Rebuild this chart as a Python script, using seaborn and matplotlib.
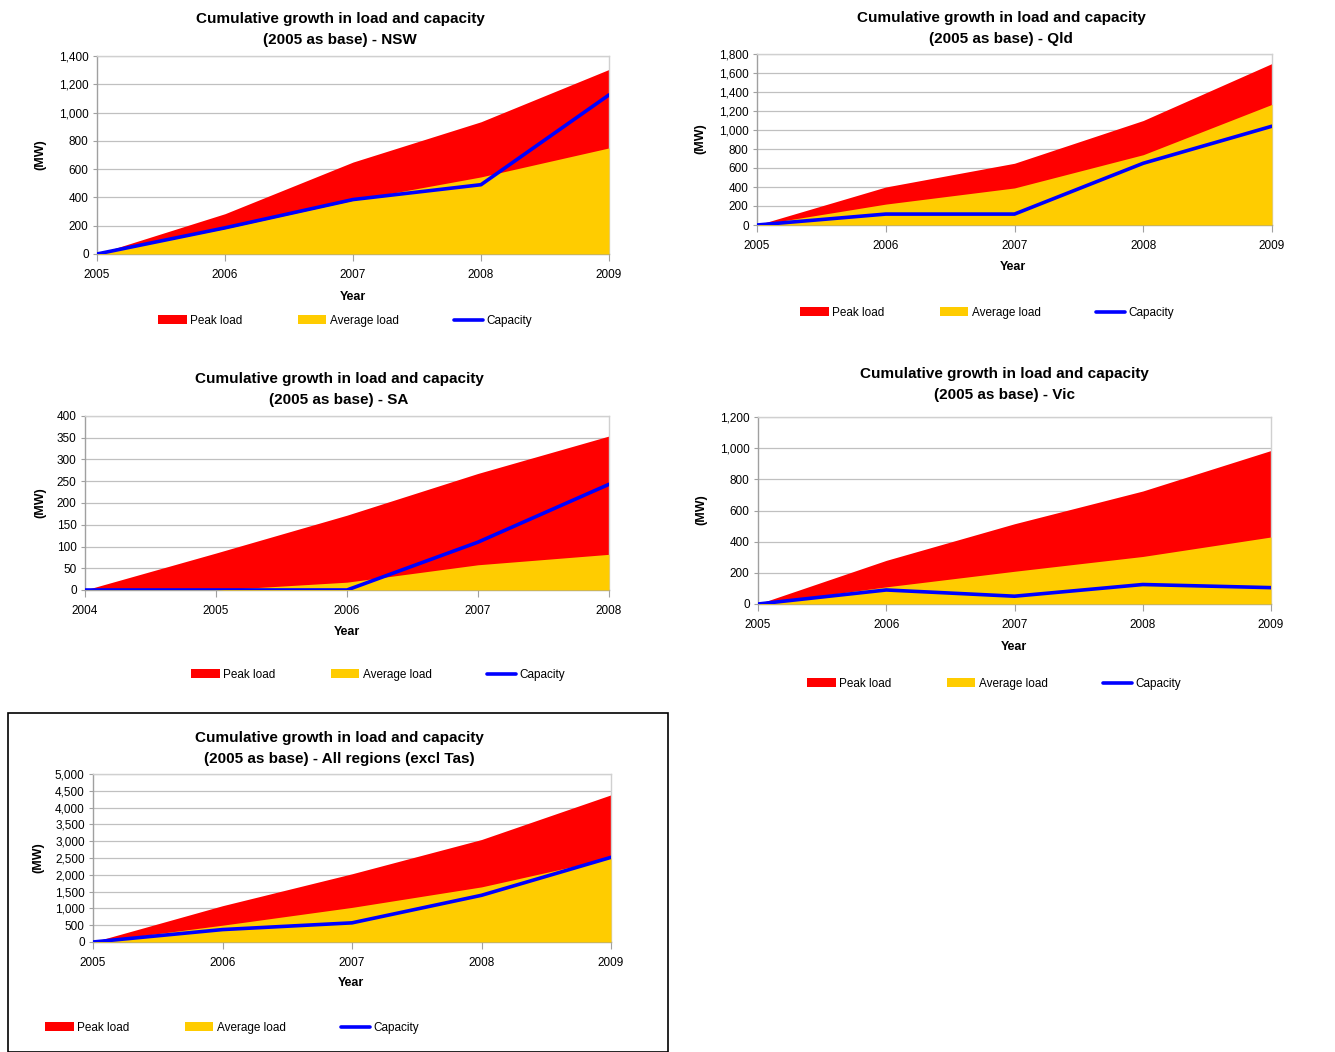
import matplotlib
matplotlib.use("Agg")
import matplotlib.pyplot as plt
from matplotlib.patches import Patch, Rectangle
from matplotlib.lines import Line2D
from matplotlib.ticker import FuncFormatter, MultipleLocator
import seaborn as sns
import pandas as pd

# Cumulative growth (MW) relative to the base year, by region
years_std = [2005, 2006, 2007, 2008, 2009]
years_sa = [2004, 2005, 2006, 2007, 2008]

nsw_peak = [0, 285, 650, 935, 1305]
nsw_avg = [0, 180, 380, 545, 750]
nsw_cap = [0, 185, 385, 490, 1125]

qld_peak = [0, 400, 650, 1100, 1700]
qld_avg = [0, 220, 390, 740, 1270]
qld_cap = [0, 115, 115, 650, 1040]

sa_peak = [0, 85, 172, 268, 354]
sa_avg = [0, 0, 18, 58, 82]
sa_cap = [0, 0, 0, 110, 243]

vic_peak = [0, 280, 515, 725, 985]
vic_avg = [0, 110, 210, 305, 430]
vic_cap = [0, 90, 50, 125, 105]

all_peak = [0, 1080, 2030, 3050, 4380]
all_avg = [0, 500, 1030, 1640, 2500]
all_cap = [0, 370, 570, 1390, 2520]

title_line1 = "Cumulative growth in load and capacity"
region_titles = ["(2005 as base) - NSW", "(2005 as base) - Qld", "(2005 as base) - SA",
                 "(2005 as base) - Vic", "(2005 as base) - All regions (excl Tas)"]
series_names = ["Peak load", "Average load", "Capacity"]

RED = "#FF0000"
YELLOW = "#FFCC00"
BLUE = "#0000FF"
GRID = "#C0C0C0"

sns.set_theme(style="white")
plt.rcParams["font.family"] = ["Liberation Sans", "DejaVu Sans"]
plt.rcParams["text.color"] = "black"
plt.rcParams["axes.labelcolor"] = "black"
plt.rcParams["xtick.labelcolor"] = "black"
plt.rcParams["ytick.labelcolor"] = "black"

W, H = 1335, 1052
fig = plt.figure(figsize=(W / 100, H / 100), dpi=100)


def px_axes(x0, y0, x1, y1):
    return fig.add_axes([x0 / W, 1 - y1 / H, (x1 - x0) / W, (y1 - y0) / H])


def ftext(x, y, s, **kw):
    fig.text(x / W, 1 - y / H, s, ha="center", va="center", color="black", **kw)


def panel(box, years, peak, avg, cap, ymax, ystep, title2, title_xy,
          year_xy, mw_xy, legend_xy):
    ax = px_axes(*box)
    ax.fill_between(years, 0, peak, color=RED, lw=0, zorder=2)
    ax.fill_between(years, 0, avg, color=YELLOW, lw=0, zorder=3)
    df = pd.DataFrame({"Year": years, "MW": cap})
    sns.lineplot(data=df, x="Year", y="MW", ax=ax, color=BLUE, lw=2.6, zorder=4)
    ax.set_xlim(years[0], years[-1])
    ax.set_ylim(0, ymax)
    ax.set_xticks(years)
    ax.yaxis.set_major_locator(MultipleLocator(ystep))
    ax.yaxis.set_major_formatter(FuncFormatter(lambda v, p: f"{v:,.0f}"))
    ax.grid(axis="y", color=GRID, lw=0.9, zorder=1)
    ax.set_axisbelow(True)
    for s in ["top", "right"]:
        ax.spines[s].set_color("#D0D0D0")
        ax.spines[s].set_linewidth(1.0)
    for s in ["left", "bottom"]:
        ax.spines[s].set_color("#A0A0A0")
        ax.spines[s].set_linewidth(1.0)
    ax.tick_params(axis="x", which="major", direction="out", length=5, width=0.8,
                   color="#A0A0A0", labelcolor="black", labelsize=8.5, pad=6,
                   bottom=True)
    ax.tick_params(axis="y", which="major", direction="out", length=3, width=0.8,
                   color="#A0A0A0", labelcolor="black", labelsize=8.5, pad=3,
                   left=True)
    ax.set_xlabel("")
    ax.set_ylabel("")
    ftext(title_xy[0], title_xy[1], title_line1, fontsize=11, fontweight="bold")
    ftext(title_xy[0], title_xy[1] + 21, title2, fontsize=11, fontweight="bold")
    ftext(year_xy[0], year_xy[1], "Year", fontsize=9, fontweight="bold")
    ftext(mw_xy[0], mw_xy[1], "(MW)", fontsize=9, fontweight="bold", rotation=90)
    handles = [Patch(facecolor=RED, edgecolor="none"),
               Patch(facecolor=YELLOW, edgecolor="none"),
               Line2D([0], [0], color=BLUE, lw=2.6)]
    leg = fig.legend(handles, series_names, loc="center", ncol=3, frameon=False,
                     bbox_to_anchor=(legend_xy[0] / W, 1 - legend_xy[1] / H),
                     fontsize=8.5, handlelength=2.4, handleheight=0.8,
                     handletextpad=0.3, columnspacing=4.7)
    for t in leg.get_texts():
        t.set_color("black")
    return ax


panel((97, 56, 609, 254), years_std, nsw_peak, nsw_avg, nsw_cap, 1400, 200,
      region_titles[0], (340, 19), (353, 297), (40, 155), (345, 321))
panel((757, 54, 1272, 225), years_std, qld_peak, qld_avg, qld_cap, 1800, 200,
      region_titles[1], (1001, 18), (1013, 267), (700, 139), (987, 313))
panel((85, 416, 609, 590), years_sa, sa_peak, sa_avg, sa_cap, 400, 50,
      region_titles[2], (339, 379), (347, 632), (40, 503), (378, 675))
panel((758, 417, 1271, 604), years_std, vic_peak, vic_avg, vic_cap, 1200, 200,
      region_titles[3], (1004, 374), (1014, 647), (701, 510), (994, 684))
panel((93, 774, 611, 942), years_std, all_peak, all_avg, all_cap, 5000, 500,
      region_titles[4], (339, 738), (351, 983), (38, 858), (232, 1028))

# Frame around the all-regions chart
fig.add_artist(Rectangle((8 / W, 0), (668 - 8) / W, 1 - 713 / H,
                         transform=fig.transFigure, fill=False,
                         edgecolor="black", lw=1.2))

fig.savefig("out.png", dpi=100, facecolor="white")
